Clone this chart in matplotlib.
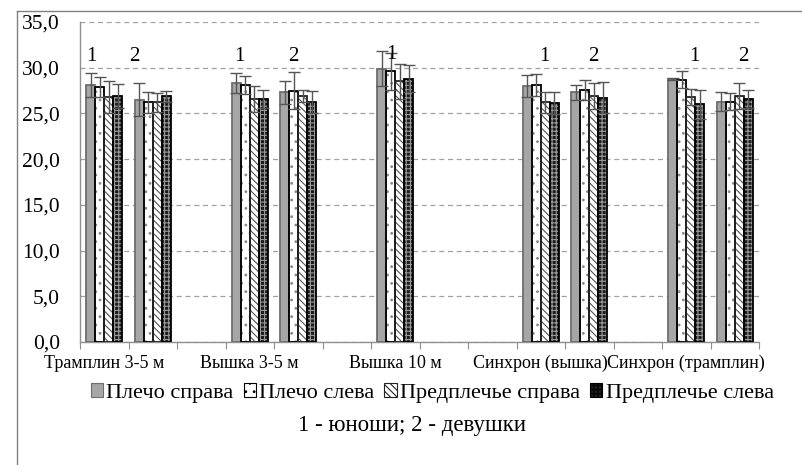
import numpy as np
import matplotlib
matplotlib.use("Agg")
import matplotlib.pyplot as plt
from matplotlib.patches import Patch
from matplotlib.lines import Line2D

plt.rcParams["font.family"] = "serif"
plt.rcParams["font.serif"] = ["Liberation Serif", "DejaVu Serif"]
plt.rcParams["hatch.linewidth"] = 0.8

disciplines = ["Трамплин 3-5 м", "Вышка 3-5 м", "Вышка 10 м",
               "Синхрон (вышка)", "Синхрон (трамплин)"]
groups = ["1", "2"]  # 1 - юноши, 2 - девушки
series = ["Плечо справа", "Плечо слева", "Предплечье справа", "Предплечье слева"]

nan = np.nan
# order: discipline x (юноши, девушки)
shoulder_r = [28.1, 26.5, 28.3, 27.3, 29.9, nan, 28.0, 27.3, 28.8, 26.3]
shoulder_r_err = [1.3, 1.8, 1.1, 1.3, 1.9, nan, 1.2, 0.8, 0.1, 1.0]
shoulder_l = [27.9, 26.2, 28.1, 27.5, 29.6, nan, 28.1, 27.6, 28.7, 26.3]
shoulder_l_err = [1.1, 1.1, 1.0, 2.0, 2.0, nan, 1.2, 1.1, 0.9, 0.9]
forearm_r = [26.8, 26.2, 26.6, 26.9, 28.5, nan, 26.2, 26.9, 26.8, 26.9]
forearm_r_err = [1.7, 1.0, 1.4, 0.7, 1.9, nan, 1.1, 1.4, 0.9, 1.4]
forearm_l = [26.9, 26.9, 26.6, 26.2, 28.8, nan, 26.1, 26.7, 26.0, 26.6]
forearm_l_err = [1.3, 0.6, 1.0, 1.2, 1.5, nan, 1.2, 1.7, 1.6, 1.0]

values = [shoulder_r, shoulder_l, forearm_r, forearm_l]
errors = [shoulder_r_err, shoulder_l_err, forearm_r_err, forearm_l_err]

# fill / hatch / hatch colour / outline per series
styles = [
    dict(face="#a6a6a6", hatch=None, hcolor="#a6a6a6", edge="#6e6e6e"),
    dict(face="white", hatch="..", hcolor="#8a8a8a", edge="black"),
    dict(face="white", hatch="\\\\\\\\\\", hcolor="#555555", edge="#222222"),
    dict(face="#1c1c1c", hatch="++++", hcolor="#9a9a9a", edge="black"),
]

# each discipline takes three slots: юноши, девушки, gap
n_slots = 3 * len(disciplines) - 1
slot = np.array([3 * d + g for d in range(len(disciplines)) for g in range(2)])

# manually placed "1"/"2" marks above the groups
mark_dx = [-0.27, -0.37, -0.22, -0.11, -0.07, nan, 0.07, 0.08, 0.16, 0.17]
mark_y = [31.2, 31.2, 31.2, 31.2, 31.4, nan, 31.2, 31.2, 31.2, 31.2]

fig = plt.figure(figsize=(8.02, 4.65), dpi=100)
ax = fig.add_axes([80 / 802, 1 - 342 / 465, 679 / 802, 320 / 465])

bw = 0.1875
for i, (vals, errs, st) in enumerate(zip(values, errors, styles)):
    x = slot + (i - 1.5) * bw
    v = np.array(vals, dtype=float)
    e = np.array(errs, dtype=float)
    ax.bar(x, v, bw, color=st["face"], hatch=st["hatch"],
           edgecolor=st["hcolor"], linewidth=0, zorder=2)
    ax.bar(x, v, bw, fill=False, edgecolor=st["edge"], linewidth=1.3, zorder=3)
    ax.errorbar(x, v, yerr=e, fmt="none", ecolor="#555555", elinewidth=1,
                capsize=4, capthick=1, zorder=4)

for k in range(len(slot)):
    if np.isnan(mark_y[k]):
        continue
    ax.text(slot[k] + mark_dx[k], mark_y[k], groups[k % 2], fontsize=15,
            ha="center", va="center", zorder=5)

ax.set_xlim(-0.5, n_slots - 0.5)
ax.set_ylim(0, 35)
ax.set_yticks(np.arange(0, 36, 5))
ax.set_yticklabels([f"{t:.1f}".replace(".", ",") for t in np.arange(0, 36, 5)])
ax.yaxis.grid(True, linestyle=(0, (4, 3)), color="#a0a0a0", linewidth=0.9)
ax.set_axisbelow(True)

ax.set_xticks(np.arange(-0.5, n_slots, 1.0))
ax.set_xticklabels([])
ax.set_xticks(np.arange(0, n_slots, 3), minor=True)
ax.set_xticklabels(disciplines, minor=True)
ax.tick_params(axis="x", which="major", length=5, color="#909090", direction="out")
ax.tick_params(axis="x", which="minor", length=0, labelsize=13, pad=9)
ax.tick_params(axis="y", length=0, labelsize=15.5, pad=14.5)

for side in ["top", "right"]:
    ax.spines[side].set_visible(False)
for side in ["left", "bottom"]:
    ax.spines[side].set_color("#909090")
    ax.spines[side].set_linewidth(1)

handles = [Patch(facecolor=st["face"], hatch=st["hatch"], edgecolor=st["edge"],
                 linewidth=0.8) for st in styles]
fig.legend(handles, series, loc="center", bbox_to_anchor=(0.539, 1 - 393 / 465),
           ncol=4, frameon=False, fontsize=16, handlelength=0.55,
           handleheight=0.55, handletextpad=0.15, columnspacing=0.45)

fig.text(412 / 802, 1 - 425 / 465, "1 - юноши; 2 - девушки", ha="center",
         va="center", fontsize=16.5)

# chart frame
fig.add_artist(Line2D([17 / 802, 1], [1 - 11 / 465] * 2, color="#808080", lw=1))
fig.add_artist(Line2D([17 / 802] * 2, [0, 1 - 11 / 465], color="#808080", lw=1))

fig.savefig("out.png", dpi=100)
